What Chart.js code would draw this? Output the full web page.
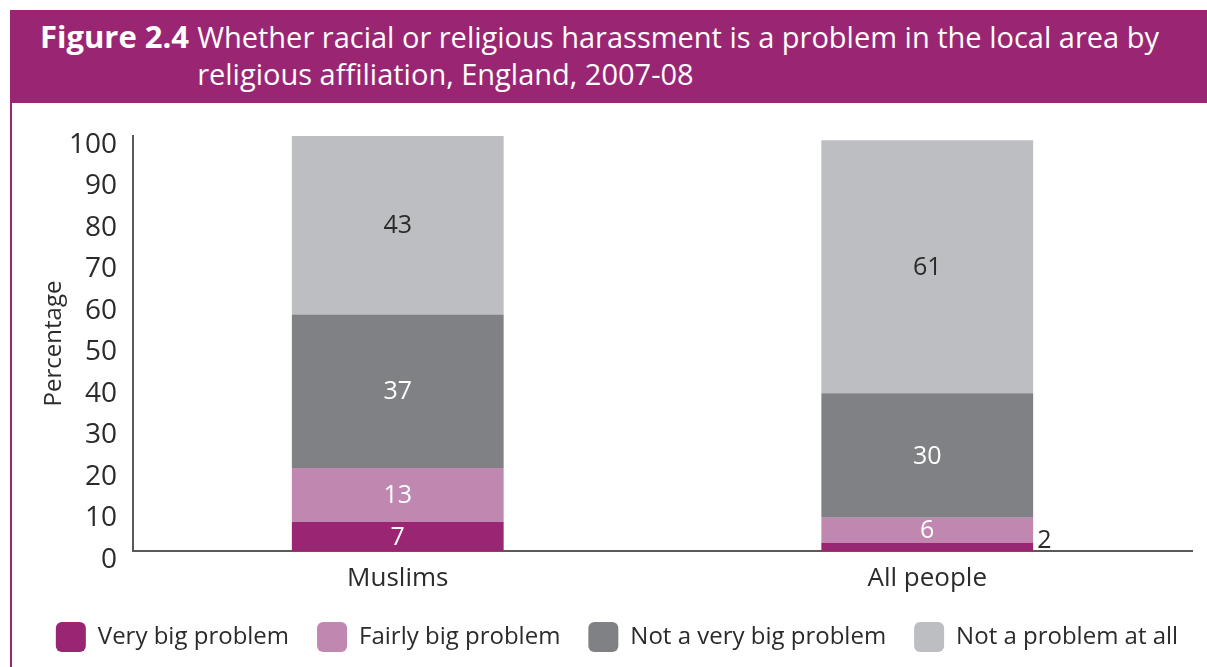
<!DOCTYPE html>
<html>
<head>
<meta charset="utf-8">
<script src="https://cdn.jsdelivr.net/npm/chart.js@4/dist/chart.umd.min.js"></script>
<style>
  html, body { margin: 0; padding: 0; background: #fff; }
  body { width: 1207px; height: 667px; position: relative; overflow: hidden; font-family: "Open Sans", sans-serif; }
  #header {
    position: absolute; left: 10px; top: 10px; width: 1197px; height: 93px;
    background: #9a2673; color: #fff; font-size: 29px; line-height: 37px;
    box-sizing: border-box; padding: 8px 0 0 30px;
  }
  #header .row { display: flex; }
  #header b { white-space: pre; font-size: 31px; }
  #sideline { position: absolute; left: 10px; top: 103px; width: 2px; height: 564px; background: #9a2673; }
  #wrap { position: absolute; left: 12px; top: 103px; width: 1195px; height: 564px; }
</style>
</head>
<body>
<div id="header">
  <div class="row"><b>Figure 2.4 </b><span>Whether racial or religious harassment is a problem in the local area by<br>religious affiliation, England, 2007-08</span></div>
</div>
<div id="sideline"></div>
<div id="wrap"><canvas id="myChart"></canvas></div>

<script>
var groups = ['Muslims', 'All people'];
var veryBig = [7, 2];
var fairlyBig = [13, 6];
var notVeryBig = [37, 30];
var notAtAll = [43, 61];
var yTicks = [0, 10, 20, 30, 40, 50, 60, 70, 80, 90, 100];

var textColor = '#2b2b2b';
var axisColor = '#5a5a5a';

// writes each segment's value inside it; tiny segments get it beside the bar
var segmentLabels = {
  id: 'segmentLabels',
  afterDatasetsDraw: function(chart) {
    var ctx = chart.ctx;
    ctx.save();
    ctx.font = '25px "Open Sans"';
    ctx.textBaseline = 'middle';
    chart.data.datasets.forEach(function(ds, i) {
      chart.getDatasetMeta(i).data.forEach(function(bar, j) {
        var v = ds.data[j];
        var mid = (bar.y + bar.base) / 2;
        if (v < 4) {
          ctx.fillStyle = textColor;
          ctx.textAlign = 'left';
          ctx.fillText(v, bar.x + bar.width / 2 + 4, mid - 6);
        } else {
          ctx.fillStyle = ds.labelColor;
          ctx.textAlign = 'center';
          ctx.fillText(v, bar.x, mid + 1);
        }
      });
    });
    ctx.restore();
  }
};

// nudge the legend row a little to the right
var legendShift = {
  id: 'legendShift',
  afterLayout: function(chart) {
    if (chart.legend) {
      chart.legend.left += 15;
      chart.legend.right += 15;
    }
  }
};

function init() {
  var ctx = document.getElementById('myChart').getContext('2d');
  var myChart = new Chart(ctx, {
    type: 'bar',
    data: {
      labels: groups,
      datasets: [
        { label: 'Very big problem', data: veryBig, backgroundColor: '#9a2673', labelColor: '#fff' },
        { label: 'Fairly big problem', data: fairlyBig, backgroundColor: '#c088b0', labelColor: '#fff' },
        { label: 'Not a very big problem', data: notVeryBig, backgroundColor: '#808184', labelColor: '#fff' },
        { label: 'Not a problem at all', data: notAtAll, backgroundColor: '#bdbec2', labelColor: textColor }
      ]
    },
    options: {
      responsive: true,
      maintainAspectRatio: false,
      animation: false,
      layout: { padding: { top: 33, right: 15, bottom: 5, left: 0 } },
      datasets: { bar: { barPercentage: 0.4, categoryPercentage: 1 } },
      plugins: {
        tooltip: { enabled: false },
        legend: {
          position: 'bottom',
          labels: {
            boxWidth: 30,
            boxHeight: 30,
            padding: 28,
            useBorderRadius: true,
            borderRadius: 6,
            color: textColor,
            font: { family: 'Open Sans', size: 24 }
          }
        }
      },
      scales: {
        x: {
          stacked: true,
          grid: { display: false, drawTicks: false },
          border: { color: axisColor, width: 2 },
          ticks: { color: textColor, padding: 15, font: { family: 'Open Sans', size: 26, lineHeight: 1 } },
          afterFit: function(scale) { scale.height = 43; }
        },
        y: {
          stacked: true,
          min: 0,
          max: 100,
          grid: { display: false, drawTicks: false },
          border: { color: axisColor, width: 2 },
          afterBuildTicks: function(scale) {
            scale.ticks = yTicks.map(function(v) { return { value: v }; });
          },
          ticks: { color: textColor, padding: 16, labelOffset: 9, autoSkip: false, font: { family: 'Open Sans', size: 28 } },
          title: {
            display: true,
            text: 'Percentage',
            color: textColor,
            padding: { top: 30, bottom: 0 },
            font: { family: 'Open Sans', size: 24, lineHeight: 1 }
          },
          afterFit: function(scale) { scale.width = 121; }
        }
      }
    },
    plugins: [segmentLabels, legendShift]
  });
}

init();
</script>
</body>
</html>
